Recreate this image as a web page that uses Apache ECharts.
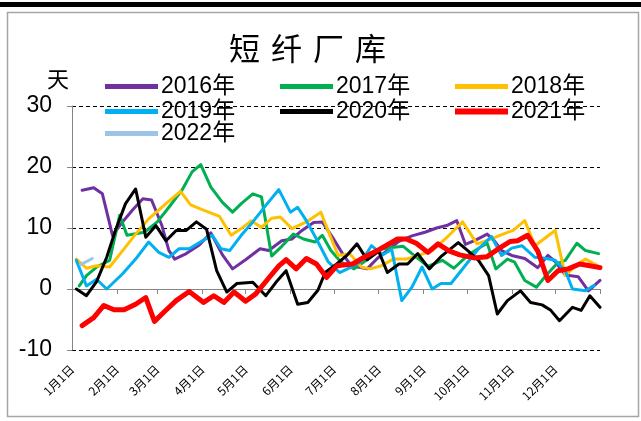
<!DOCTYPE html>
<html>
<head>
<meta charset="utf-8">
<script src="https://cdn.jsdelivr.net/npm/echarts@6/dist/echarts.min.js"></script>
<style>
html, body { margin: 0; padding: 0; background: #fff; }
#main { width: 641px; height: 421px; }
</style>
</head>
<body>
<div id="main"></div>
<script>
// x = day of year (0 = 1月1日), y = 天
var monthStarts = [0, 31, 59, 90, 120, 151, 181, 212, 243, 273, 304, 334];
var monthLabels = ['1月1日', '2月1日', '3月1日', '4月1日', '5月1日', '6月1日',
    '7月1日', '8月1日', '9月1日', '10月1日', '11月1日', '12月1日'];
var yearEnd = 365;

var years = ['2016年', '2017年', '2018年', '2019年', '2020年', '2021年', '2022年'];
var colors = ['#7030A0', '#00B050', '#FFC000', '#00B0F0', '#000000', '#FF0000', '#9DC3E6'];

var d2016 = [7, 15, 21, 28, 35, 42, 49, 55, 62, 67, 71, 79, 88, 96, 104, 111, 120, 130, 136, 145, 152, 159, 167, 173, 180,
    187, 193, 204, 211, 220, 226, 235, 244, 252, 259, 266, 272, 279, 287, 292, 297, 304, 313, 322, 329, 334, 341, 350, 357, 365];
var v2016 = [16.2, 16.6, 15.6, 8.8, 11.0, 13.0, 14.8, 14.6, 10.5, 6.3, 4.9, 5.8, 7.2, 9.2, 5.6, 3.3, 4.8, 6.6, 6.3, 7.9, 8.2, 9.6, 10.9, 11.0, 8.5,
    5.8, 3.8, 3.3, 5.0, 6.7, 7.8, 8.7, 9.3, 10.0, 10.4, 11.2, 7.3, 8.0, 9.0, 7.9, 6.3, 5.5, 5.0, 3.5, 5.5, 4.5, 2.3, 2.0, -0.3, 1.4];

var d2017 = [5, 10, 17, 26, 33, 38, 50, 59, 67, 76, 83, 89, 96, 104, 111, 117, 125, 131, 138, 145, 153, 160, 168, 173, 179,
    186, 195, 204, 213, 221, 229, 235, 246, 256, 264, 273, 282, 287, 293, 301, 306, 313, 321, 328, 335, 341, 349, 355, 364];
var v2017 = [0.5, 2.2, 3.6, 4.7, 12.1, 8.8, 9.3, 11.0, 13.4, 16.2, 19.2, 20.4, 16.7, 14.2, 12.6, 14.0, 15.6, 15.1, 5.4, 7.0, 9.0, 8.2, 7.7, 8.8, 6.3,
    4.4, 3.3, 4.8, 6.5, 6.8, 7.0, 5.8, 3.7, 4.7, 3.4, 5.4, 6.8, 7.5, 3.3, 4.9, 4.4, 1.4, 0.3, 2.3, 4.1, 4.7, 7.5, 6.3, 5.8];

var d2018 = [3, 10, 17, 26, 35, 44, 53, 65, 75, 82, 90, 102, 110, 117, 124, 131, 138, 144, 152, 162, 172, 178, 184, 192, 200,
    206, 214, 222, 231, 238, 249, 258, 270, 280, 290, 297, 305, 313, 320, 334, 341, 348, 355, 364];
var v2018 = [4.9, 3.4, 3.8, 3.6, 6.3, 9.0, 11.5, 14.0, 16.0, 13.8, 13.0, 11.9, 8.8, 9.9, 11.2, 10.1, 11.6, 11.8, 9.9, 11.0, 12.6, 9.0, 5.5, 5.8, 3.6,
    3.3, 3.8, 4.9, 4.9, 5.4, 6.3, 8.2, 11.0, 7.4, 8.2, 8.9, 9.6, 11.2, 7.1, 9.6, 2.2, 3.8, 4.9, 3.7];

var d2019 = [3, 10, 17, 24, 35, 44, 53, 60, 67, 74, 81, 93, 97, 103, 109, 117, 125, 134, 143, 151, 156, 162, 169, 177, 185,
    193, 200, 207, 215, 221, 228, 235, 242, 249, 255, 262, 272, 281, 290, 297, 304, 311, 320, 328, 334, 341, 346, 355, 361];
var v2019 = [4.7, 0.5, 1.6, 0.0, 2.5, 4.9, 7.7, 6.0, 5.2, 6.6, 6.6, 8.3, 8.8, 6.6, 6.3, 8.8, 11.0, 13.7, 16.3, 12.6, 13.4, 11.2, 8.2, 4.5, 2.7,
    3.6, 4.5, 7.1, 5.6, 6.5, -1.9, 0.3, 3.6, 0.0, 0.9, 0.9, 3.9, 6.6, 8.6, 5.5, 6.7, 7.1, 5.2, 5.0, 4.7, 3.0, 0.0, -0.3, 0.6];

var d2020 = [3, 10, 17, 24, 30, 37, 44, 51, 58, 65, 72, 79, 86, 93, 100, 107, 114, 125, 134, 141, 148, 156, 163, 170, 175,
    183, 190, 197, 204, 212, 218, 226, 232, 239, 247, 255, 267, 274, 281, 288, 294, 301, 310, 317, 325, 331, 337, 346, 352, 358, 365];
var v2020 = [0.0, -1.1, 1.2, 5.2, 9.6, 14.0, 16.4, 8.5, 10.4, 7.9, 9.6, 9.6, 11.0, 9.8, 3.0, -0.5, 0.9, 1.1, -1.1, 1.1, 3.0, -2.5, -2.2, -0.2, 2.7,
    4.1, 5.5, 7.4, 4.8, 6.2, 2.7, 4.1, 4.1, 5.8, 3.3, 5.3, 7.6, 6.2, 4.7, 2.2, -4.1, -1.9, -0.3, -2.2, -2.6, -3.5, -5.2, -3.0, -3.5, -1.1, -3.0];

var d2021 = [7, 15, 22, 29, 36, 44, 51, 57, 64, 72, 81, 91, 98, 105, 112, 120, 127, 136, 143, 148, 155, 162, 169, 176,
    183, 194, 202, 211, 220, 225, 231, 238, 246, 253, 261, 268, 278, 287, 296, 303, 308, 315, 322, 329, 336, 343, 351, 358, 365];
var v2021 = [-6.0, -4.7, -2.7, -3.4, -3.4, -2.5, -1.4, -5.3, -3.7, -1.9, -0.4, -2.2, -1.1, -2.2, -0.5, -2.0, -0.8, 1.8, 3.8, 4.8, 3.3, 5.0, 4.1, 1.9,
    3.8, 4.1, 5.2, 6.3, 7.5, 8.2, 8.2, 7.5, 6.0, 7.4, 6.2, 5.6, 5.1, 5.3, 6.8, 7.8, 7.9, 8.8, 6.2, 1.4, 3.0, 3.3, 4.1, 3.8, 3.5];

var d2022 = [6, 14];
var v2022 = [4.0, 5.0];

var allDays = [d2016, d2017, d2018, d2019, d2020, d2021, d2022];
var allVals = [v2016, v2017, v2018, v2019, v2020, v2021, v2022];

var numFont = "'Liberation Sans Narrow', 'Liberation Sans', 'Noto Sans CJK SC', sans-serif";
var cjkFont = "'Noto Sans CJK SC', sans-serif";

function pairs(days, vals) {
    var out = [];
    for (var i = 0; i < days.length; i++) {
        out.push([days[i], vals[i]]);
    }
    return out;
}

var chart = echarts.init(document.getElementById('main'), null, { renderer: 'canvas' });

var series = years.map(function (name, i) {
    return {
        name: name,
        type: 'line',
        xAxisIndex: 0,
        data: pairs(allDays[i], allVals[i]),
        symbol: 'none',
        color: colors[i],
        lineStyle: { width: i === 5 ? 5 : 3, join: 'round', cap: 'round' }
    };
});

// one legend per item, three columns as in the original
var legends = years.map(function (name, i) {
    var col = i % 3, row = Math.floor(i / 3);
    return {
        data: [name],
        left: [100, 275, 450][col],
        top: [70, 95, 117][row],
        icon: 'rect',
        itemWidth: 53,
        itemHeight: i === 5 ? 6 : 5,
        selectedMode: false,
        textStyle: { fontSize: 23, fontFamily: numFont, color: '#000', padding: [0, 0, 0, -2] }
    };
});

var option = {
    animation: false,
    backgroundColor: '#fff',
    title: {
        text: '{c|短}{c|纤}{c|厂}{c|库}',
        left: 219,
        top: 28,
        textStyle: {
            rich: {
                c: { fontSize: 31, fontFamily: cjkFont, fontWeight: 'normal', color: '#000', padding: [0, 6, 0, 5] }
            }
        }
    },
    legend: legends,
    graphic: [
        { type: 'rect', shape: { x: 0, y: 2, width: 641, height: 5 }, style: { fill: '#000' }, silent: true },
        { type: 'rect', shape: { x: 7.5, y: 12.5, width: 631, height: 404 }, style: { fill: 'none', stroke: '#A6A6A6', lineWidth: 1.5 }, silent: true },
        { type: 'text', left: 47, top: 68, style: { text: '天', fontSize: 22, fontFamily: cjkFont, fill: '#000' }, silent: true }
    ],
    grid: { left: 72, right: 41, top: 106, bottom: 71, containLabel: false },
    xAxis: [{
        type: 'value',
        min: 0,
        max: yearEnd,
        position: 'bottom',
        axisLine: { onZero: true, lineStyle: { color: '#868686', width: 1 } },
        axisTick: { show: true, customValues: monthStarts.concat([yearEnd]), length: 5, lineStyle: { color: '#868686' } },
        axisLabel: { show: false },
        splitLine: { show: false }
    }, {
        type: 'value',
        min: 0,
        max: yearEnd,
        position: 'bottom',
        axisLine: { show: false, onZero: false },
        axisTick: { show: false },
        axisLabel: {
            customValues: monthStarts,
            rotate: 45,
            margin: 17,
            fontSize: 12,
            fontFamily: cjkFont,
            color: '#000',
            formatter: function (v) {
                var k = monthStarts.indexOf(v);
                return k >= 0 ? monthLabels[k] : '';
            }
        },
        splitLine: { show: false }
    }],
    yAxis: {
        type: 'value',
        min: -10,
        max: 30,
        interval: 10,
        axisLine: { show: true, lineStyle: { color: '#868686', width: 1 } },
        axisTick: { show: true, length: 5, lineStyle: { color: '#868686' } },
        axisLabel: { fontSize: 23, fontFamily: numFont, color: '#000', margin: 20 },
        splitLine: { show: true, lineStyle: { color: '#000', type: [4, 3], width: 1 } }
    },
    series: series
};

chart.setOption(option);
</script>
</body>
</html>
